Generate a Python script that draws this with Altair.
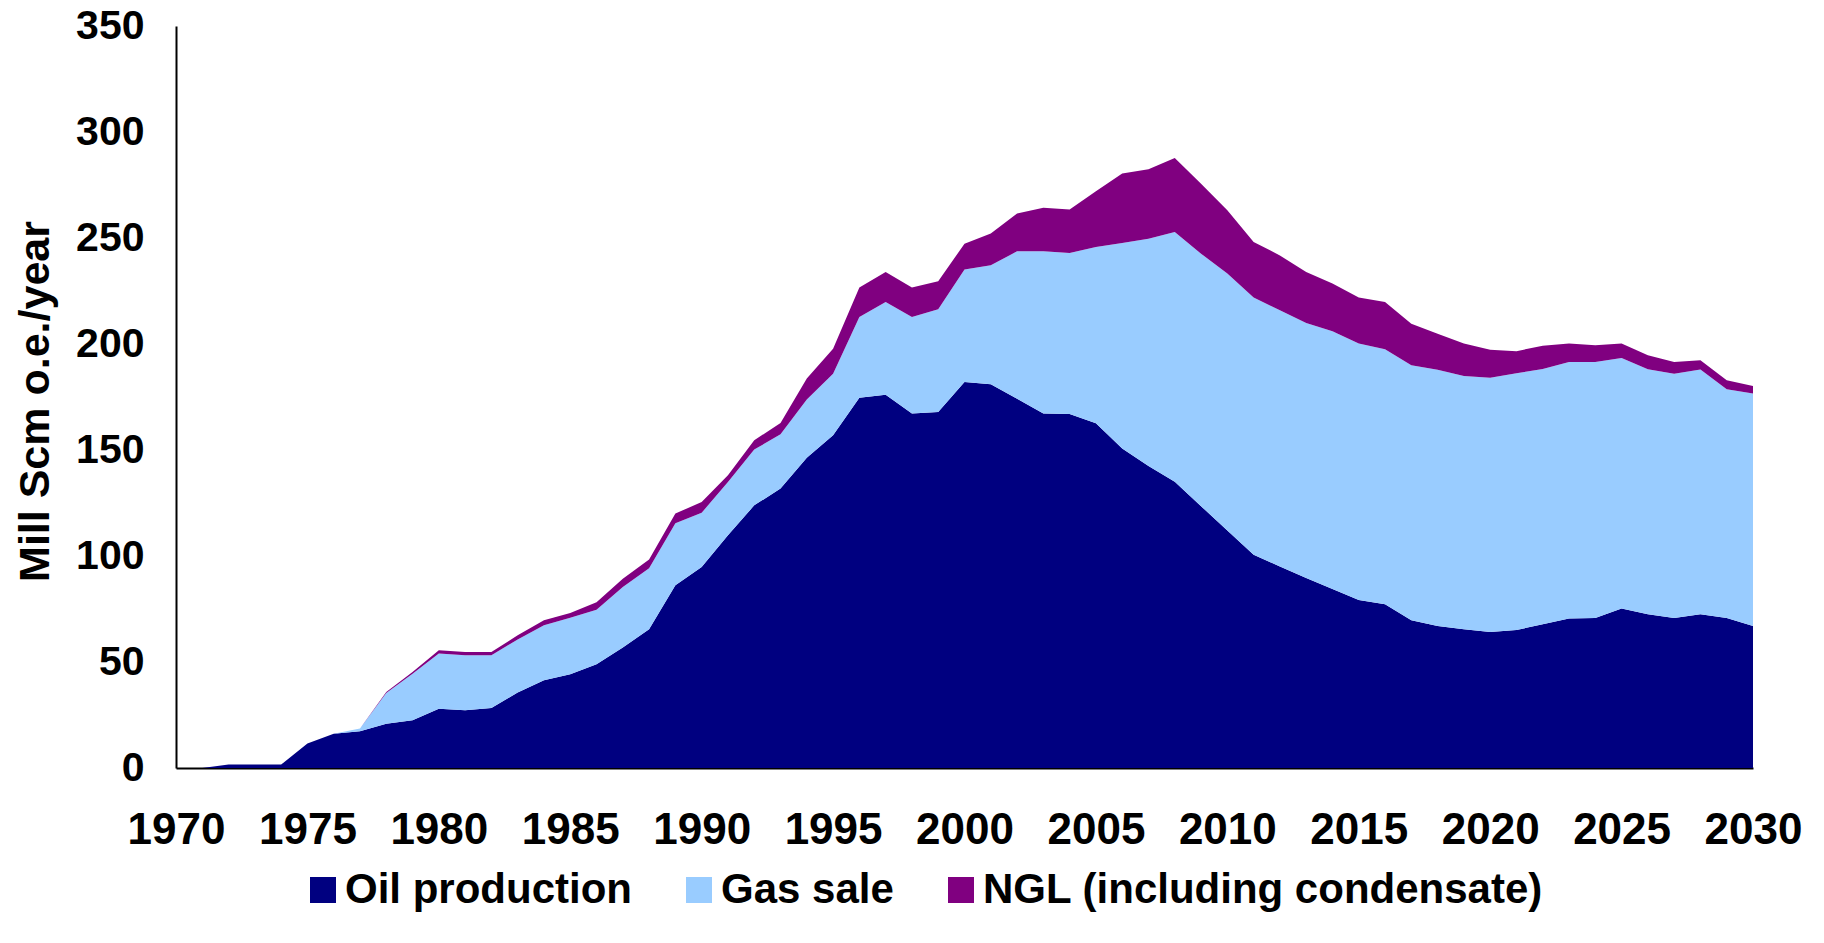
import altair as alt
import pandas as pd

years = list(range(1970, 2031))

oil = [0, 0, 1.6, 1.6, 1.6, 11.5, 16.2, 17.3, 20.9, 22.5,
       28.0, 27.2, 28.3, 35.6, 41.4, 44.2, 48.9, 56.8, 65.4, 86.2,
       94.8, 109.8, 123.9, 131.8, 146.4, 156.9, 174.7, 176.1, 167.2, 167.9,
       182.1, 181.0, 174.2, 167.2, 167.0, 162.6, 150.7, 142.4, 135.0, 123.5,
       112.0, 100.6, 95.1, 89.6, 84.4, 79.2, 77.2, 69.7, 67.0, 65.4,
       64.2, 65.1, 67.8, 70.5, 70.8, 75.2, 72.5, 70.8, 72.5, 70.8,
       67.0]

gas = [0, 0, 0, 0, 0, 0, 0, 1.3, 14.5, 22.0,
       26.0, 26.0, 24.9, 25.0, 25.9, 26.7, 25.8, 28.6, 28.8, 29.2,
       25.6, 25.1, 26.3, 25.6, 27.4, 29.1, 38.0, 43.7, 45.5, 48.5,
       53.0, 56.1, 69.5, 76.5, 75.9, 83.2, 96.9, 107.3, 117.8, 119.1,
       121.2, 121.3, 120.8, 120.3, 121.6, 121.0, 120.3, 120.3, 120.9, 119.5,
       119.9, 121.1, 120.4, 121.0, 120.7, 118.2, 115.6, 115.2, 115.5, 107.8,
       109.6]

ngl = [0, 0, 0, 0, 0, 0, 0, 0, 0.5, 0.8,
       1.5, 1.5, 1.5, 2.0, 2.4, 2.2, 3.5, 3.9, 4.2, 4.6,
       5.1, 3.2, 4.4, 5.3, 9.9, 11.8, 13.9, 14.2, 13.9, 13.2,
       12.2, 15.0, 17.8, 20.6, 20.6, 26.2, 32.8, 32.7, 34.9, 33.0,
       29.9, 26.2, 25.9, 24.1, 22.5, 21.7, 22.3, 19.5, 16.9, 15.3,
       13.2, 10.4, 11.0, 8.7, 7.9, 6.8, 6.6, 5.5, 4.3, 4.3,
       3.6]

series_names = ["Oil production", "Gas sale", "NGL (including condensate)"]
series_colors = ["#000080", "#99CCFF", "#800080"]
x_ticks = list(range(1970, 2031, 5))
y_ticks = list(range(0, 351, 50))

rows = []
for name, order, vals in zip(series_names, [0, 1, 2], [oil, gas, ngl]):
    for yr, v in zip(years, vals):
        rows.append({"year": yr, "value": v, "series": name, "order": order})
df = pd.DataFrame(rows)

FONT = "Liberation Sans, Arial, sans-serif"

chart = alt.Chart(df).mark_area(interpolate="linear").encode(
    x=alt.X("year:Q",
            scale=alt.Scale(domain=[1970, 2030], nice=False, zero=False),
            axis=alt.Axis(values=x_ticks, format="d", title=None, ticks=False,
                          grid=False, labelFlush=False, labelOverlap=False,
                          labelFontSize=44, labelPadding=40,
                          domainColor="black", domainWidth=2)),
    y=alt.Y("value:Q", stack="zero",
            scale=alt.Scale(domain=[0, 350], nice=False),
            axis=alt.Axis(values=y_ticks, title="Mill Scm o.e./year", ticks=False,
                          grid=False, labelFontSize=41, labelPadding=32,
                          titleFontSize=43, titleX=-141, titleY=375,
                          titleAngle=-90, titleAlign="center", titleBaseline="middle",
                          domainColor="black", domainWidth=2)),
    color=alt.Color("series:N",
                    scale=alt.Scale(domain=series_names, range=series_colors),
                    legend=alt.Legend(title=None, orient="none", direction="horizontal",
                                      legendX=126, legendY=843,
                                      symbolType="square", symbolSize=676,
                                      symbolStrokeWidth=0, labelFontSize=42,
                                      labelOffset=1, columnPadding=46,
                                      symbolOpacity=1)),
    order=alt.Order("order:Q"),
).properties(
    width=1577,
    height=742,
    autosize=alt.AutoSizeParams(type="none"),
    padding={"left": 168, "top": 18, "right": 50, "bottom": 150},
).configure_axis(
    labelFont=FONT, labelFontWeight="bold", labelColor="black",
    titleFont=FONT, titleFontWeight="bold", titleColor="black",
).configure_legend(
    labelFont=FONT, labelFontWeight="bold", labelColor="black", labelLimit=0,
).configure_view(strokeWidth=0)

chart.save("out.html", embed_options={"renderer": "svg", "actions": False})
